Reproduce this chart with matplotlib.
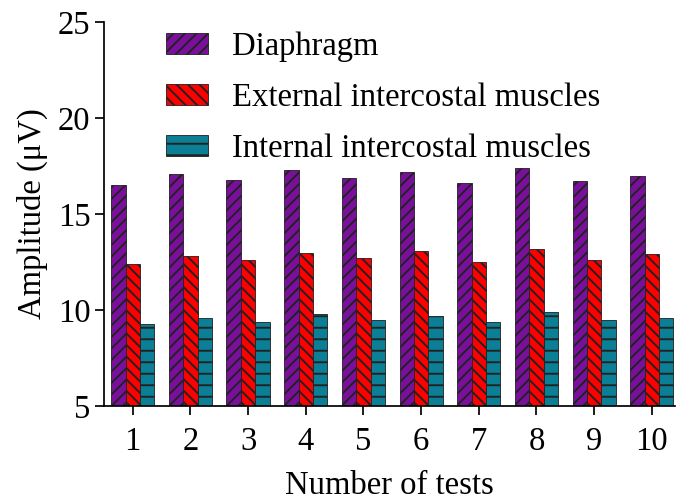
import numpy as np
import matplotlib
matplotlib.use('Agg')
import matplotlib.pyplot as plt

# data
tests = np.arange(1, 11)
diaphragm = [16.5, 17.1, 16.8, 17.3, 16.9, 17.2, 16.6, 17.4, 16.7, 17.0]
external = [12.4, 12.8, 12.6, 13.0, 12.7, 13.1, 12.5, 13.2, 12.6, 12.9]
internal = [9.3, 9.6, 9.4, 9.8, 9.5, 9.7, 9.4, 9.9, 9.5, 9.6]
labels = ['Diaphragm', 'External intercostal muscles', 'Internal intercostal muscles']

# set the params
DPI = 69
plt.rcParams['font.family'] = ['Liberation Serif', 'DejaVu Serif']
plt.rcParams['hatch.linewidth'] = 2.0
plt.rcParams['hatch.color'] = 'black'

fig = plt.figure(figsize=(679 / DPI, 502 / DPI), dpi=DPI)
ax = fig.add_axes([0.153, 0.191, 0.841, 0.765])

w = 0.25
style = dict(width=w, edgecolor='#222222', linewidth=0.9)
ax.bar(tests - w, diaphragm, color='#7a0f9c', hatch='//', label=labels[0], **style)
ax.bar(tests, external, color='#ff0000', hatch='\\\\', label=labels[1], **style)
ax.bar(tests + w, internal, color='#0a7f96', hatch='-', label=labels[2], **style)

ax.set_xlim(0.5, 10.4)
ax.set_ylim(5, 25)
ax.set_xticks(tests)
ax.set_yticks([5, 10, 15, 20, 25])

for s in ['top', 'right']:
    ax.spines[s].set_visible(False)
for s in ['left', 'bottom']:
    ax.spines[s].set_linewidth(1.8)
ax.tick_params(direction='out', length=9, width=1.8, labelsize=34, pad=5)
ax.tick_params(axis='x', pad=12)

ax.set_xlabel('Number of tests', fontsize=34, labelpad=14)
ax.set_ylabel('Amplitude (\u03bcV)', fontsize=34, labelpad=10)

leg = ax.legend(loc='upper left', bbox_to_anchor=(0.109, 0.975), frameon=False,
                fontsize=34, handlelength=1.29, handleheight=0.62,
                handletextpad=0.72, labelspacing=0.63, borderpad=0,
                borderaxespad=0)

fig.savefig('out.png', dpi=DPI)
